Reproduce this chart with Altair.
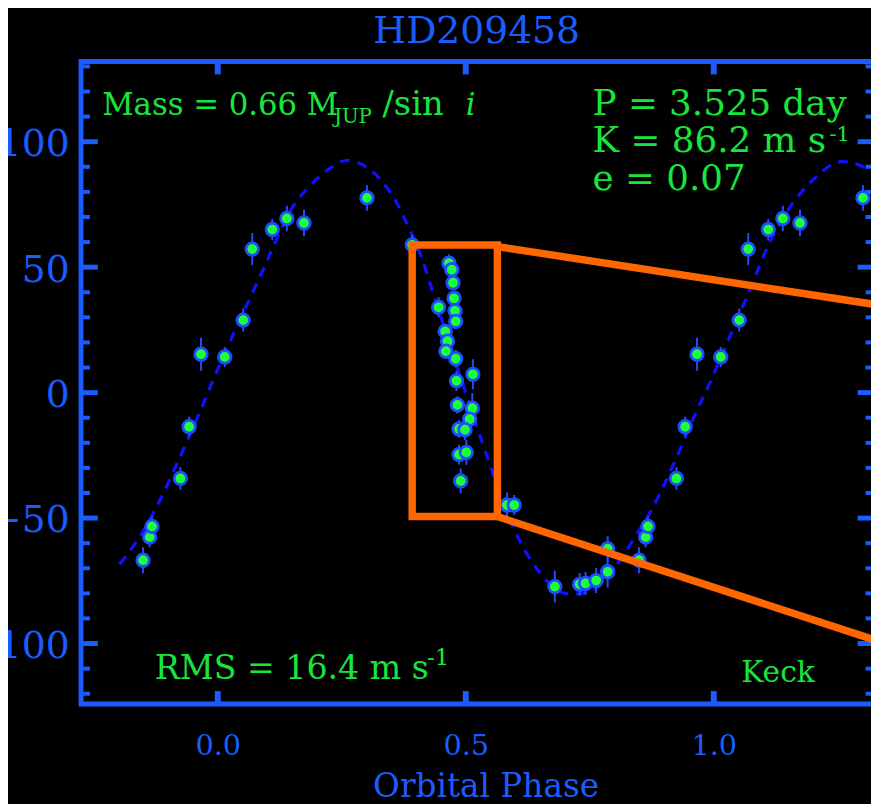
import altair as alt
import pandas as pd

SERIF = "DejaVu Serif"
AX = "#1a5cff"
CURVE = "#1010ff"
GREEN_TXT = "#19e63c"
PT_FILL = "#1cff3c"
PT_EDGE = "#1f4cff"
ORANGE = "#ff6600"

# ---- observations: orbital phase (0..1), radial velocity (m/s), error (m/s)
obs_phase = [0.8494, 0.8628, 0.8674, 0.9247, 0.9423, 0.9663, 0.0142, 0.0513, 0.0695, 0.1099,
             0.1392, 0.1738, 0.3008, 0.3919, 0.4453,
             0.4661, 0.4718, 0.4744, 0.4764, 0.4784, 0.4798, 0.4585, 0.4632, 0.4599, 0.4798,
             0.5144, 0.4812, 0.4832, 0.5132, 0.5078, 0.4864, 0.4984, 0.4864, 0.5012, 0.4898,
             0.5831, 0.5977, 0.6796, 0.7295, 0.7415, 0.7629, 0.7861, 0.7861]
obs_rv = [-66.8, -57.6, -53.3, -34.2, -13.6, 15.3, 14.2, 28.9, 57.2, 65.0,
          69.4, 67.6, 77.6, 58.9, 34.0,
          51.6, 49.0, 43.8, 37.6, 32.6, 28.4, 24.4, 20.5, 16.5, 13.5,
          7.3, 4.7, -4.9, -6.2, -10.6, -14.5, -14.8, -24.7, -23.8, -35.2,
          -44.8, -44.8, -77.3, -76.4, -76.0, -74.9, -71.4, -62.2]
obs_err = [5.2, 4.0, 4.0, 4.5, 4.0, 6.6, 4.0, 4.6, 6.4, 4.3,
           5.1, 5.3, 5.1, 4.0, 4.0,
           3.5, 3.0, 3.0, 3.0, 3.5, 3.0, 3.0, 3.0, 3.0, 3.5,
           6.0, 4.0, 3.5, 6.0, 3.5, 3.5, 4.0, 4.0, 5.0, 5.0,
           5.0, 4.0, 6.3, 4.5, 4.5, 5.0, 6.3, 5.0]

# ---- fitted orbit (dashed curve)
curve_phase = [-0.198, -0.169, -0.129, -0.080, -0.030, -0.001, 0.030, 0.064, 0.096, 0.112,
               0.147, 0.190, 0.220, 0.260, 0.280, 0.313, 0.340, 0.360, 0.378, 0.410,
               0.434, 0.496, 0.536, 0.605, 0.643, 0.700, 0.720, 0.745, 0.770, 0.795,
               0.820, 0.839, 0.879, 0.929, 0.959, 0.993, 1.026, 1.069, 1.112, 1.152,
               1.199, 1.259, 1.295, 1.322]
curve_rv = [-68.4, -60.9, -47.7, -27.3, -4.9, 8.9, 22.7, 37.2, 51.0, 58.2,
            72.7, 83.2, 88.5, 92.5, 91.8, 87.9, 81.9, 76.0, 68.8, 54.3,
            39.8, 2.3, -21.4, -57.6, -70.1, -80.0, -80.3, -79.6, -76.5, -71.0,
            -64.2, -58.2, -45.1, -24.0, -10.2, 4.3, 19.4, 39.2, 59.5, 73.4,
            84.6, 92.1, 90.5, 87.5]

# ---- zoom box and its connecting lines (data coordinates)
box_phase = [0.392]
box_phase2 = [0.5637]
box_rv = [58.8]
box_rv2 = [-49.4]
link_phase = [0.5637, 0.5637]
link_phase2 = [1.339, 1.339]
link_rv = [58.2, -49.4]
link_rv2 = [34.7, -99.5]

# ---- ticks
y_major = [-100, -50, 0, 50, 100]
y_minor = [-120, -110, -90, -80, -70, -60, -40, -30, -20, -10,
           10, 20, 30, 40, 60, 70, 80, 90, 110, 120, 130]
x_major = [0.0, 0.5, 1.0]

# ---- annotations
ann_text = ["Mass = 0.66 M", "JUP", "/sin", "P = 3.525 day", "K = 86.2 m s", "-1",
            "e = 0.07", "RMS = 16.4 m s", "-1", "Keck"]
ann_phase = [-0.2331, 0.2343, 0.3322, 0.7557, 0.7557, 1.2331, 0.7557, -0.1272, 0.4221, 1.0553]
ann_rv = [110.76, 107.6, 110.76, 110.76, 95.76, 100.3, 80.75, -114.3, -108.4, -115.5]
ann_size = [31, 20, 34, 36, 36, 21, 36, 33.5, 23, 30]
ital_text = ["i"]
ital_phase = [0.5000]
ital_rv = [110.76]
title_text = ["HD209458"]
title_phase = [0.522]
title_rv = [139.19]

# ---- build tables
rows = []
for p, v, e in zip(obs_phase, obs_rv, obs_err):
    shifts = [0.0]
    if p >= 0.84:
        shifts.append(-1.0)
    if p <= 0.31:
        shifts.append(1.0)
    for s in shifts:
        rows.append({"phase": p + s, "rv": v, "lo": v - e, "hi": v + e})
pts = pd.DataFrame(rows)
curve_df = pd.DataFrame({"phase": curve_phase, "rv": curve_rv})
box_df = pd.DataFrame({"phase": box_phase, "phase2": box_phase2, "rv": box_rv, "rv2": box_rv2})
link_df = pd.DataFrame({"phase": link_phase, "phase2": link_phase2, "rv": link_rv, "rv2": link_rv2})
ymaj_df = pd.DataFrame({"rv": y_major})
ymin_df = pd.DataFrame({"rv": y_minor})
xmaj_df = pd.DataFrame({"phase": x_major})
ann_df = pd.DataFrame({"text": ann_text, "phase": ann_phase, "rv": ann_rv, "fs": ann_size})
ital_df = pd.DataFrame({"text": ital_text, "phase": ital_phase, "rv": ital_rv})
title_df = pd.DataFrame({"text": title_text, "phase": title_phase, "rv": title_rv})

W, H = 800.8, 648.4

xscale = alt.Scale(domain=[-0.27567, 1.32401], nice=False, zero=False)
yscale = alt.Scale(domain=[-124.07, 131.97], nice=False, zero=False)

xaxis = alt.Axis(values=x_major, format=".1f", domain=False, ticks=False, tickSize=0, grid=False,
                 labelFont=SERIF, labelFontSize=29, labelColor=AX, labelPadding=51.3,
                 labelBaseline="alphabetic", labelFlush=False,
                 title="Orbital Phase", titleFont=SERIF, titleFontSize=33, titleFontWeight="normal",
                 titleColor=AX, titleBaseline="alphabetic", titleAlign="center",
                 titleX=408.3, titleY=93.3)
yaxis = alt.Axis(values=y_major, format="d", domain=False, ticks=False, tickSize=0, grid=False,
                 labelFont=SERIF, labelFontSize=38, labelColor=AX, labelPadding=12,
                 labelBaseline="alphabetic", labelOffset=14, labelFlush=False, title=None)

X = alt.X("phase:Q", scale=xscale, axis=xaxis)
Y = alt.Y("rv:Q", scale=yscale, axis=yaxis)

curve = alt.Chart(curve_df).mark_line(color=CURVE, strokeWidth=3.2, strokeDash=[10, 8],
                                      interpolate="monotone").encode(x=X, y=Y)
errbars = alt.Chart(pts).mark_rule(color=PT_EDGE, strokeWidth=2).encode(
    x=X, y=alt.Y("lo:Q", scale=yscale, axis=yaxis), y2="hi:Q")
points = alt.Chart(pts).mark_circle(color=PT_FILL, opacity=1, stroke=PT_EDGE, strokeWidth=2.8,
                                    size=160).encode(x=X, y=Y)

yl_major = alt.Chart(ymaj_df).mark_rule(color=AX, strokeWidth=5).encode(
    y=Y, x=alt.value(0), x2=alt.value(17))
yl_minor = alt.Chart(ymin_df).mark_rule(color=AX, strokeWidth=4).encode(
    y=Y, x=alt.value(0), x2=alt.value(9))
yr_major = alt.Chart(ymaj_df).mark_rule(color=AX, strokeWidth=5).encode(
    y=Y, x=alt.value(W), x2=alt.value(W - 17))
yr_minor = alt.Chart(ymin_df).mark_rule(color=AX, strokeWidth=4).encode(
    y=Y, x=alt.value(W), x2=alt.value(W - 9))
xt_top = alt.Chart(xmaj_df).mark_rule(color=AX, strokeWidth=6).encode(
    x=X, y=alt.value(0), y2=alt.value(13))
xt_bot = alt.Chart(xmaj_df).mark_rule(color=AX, strokeWidth=6).encode(
    x=X, y=alt.value(H), y2=alt.value(H - 13))

box = alt.Chart(box_df).mark_rect(fillOpacity=0, stroke=ORANGE, strokeWidth=7.5).encode(
    x=X, x2="phase2:Q", y=Y, y2="rv2:Q")
links = alt.Chart(link_df).mark_rule(color=ORANGE, strokeWidth=7.5).encode(
    x=X, x2="phase2:Q", y=Y, y2="rv2:Q")

ann = alt.Chart(ann_df).mark_text(align="left", baseline="alphabetic", font=SERIF,
                                  color=GREEN_TXT).encode(
    x=X, y=Y, text="text:N", size=alt.Size("fs:Q", scale=None))
ital = alt.Chart(ital_df).mark_text(align="left", baseline="alphabetic", font=SERIF,
                                    fontStyle="italic", fontSize=31, color=GREEN_TXT).encode(
    x=X, y=Y, text="text:N")
title = alt.Chart(title_df).mark_text(align="center", baseline="alphabetic", font=SERIF,
                                      fontSize=38, color=AX).encode(
    x=X, y=Y, text="text:N")

chart = alt.layer(
    curve, errbars, points,
    yl_major, yl_minor, yr_major, yr_minor, xt_top, xt_bot,
    box, links, ann, ital, title,
).properties(
    width=W, height=H,
    autosize=alt.AutoSizeParams(type="none"),
    padding={"left": 73.7, "top": 50.3, "right": -3.5, "bottom": 97},
).configure(background="black").configure_view(stroke=AX, strokeWidth=5)

chart.save("out.html", embed_options={"renderer": "svg", "actions": False})
